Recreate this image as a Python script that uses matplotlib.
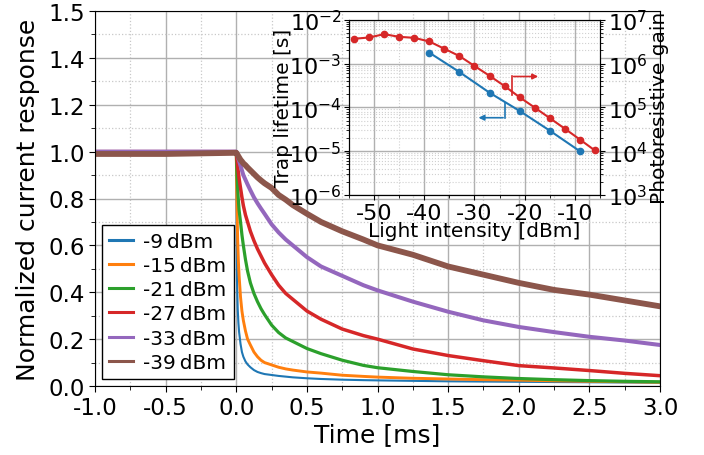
import matplotlib
matplotlib.use('Agg')
import matplotlib.pyplot as plt
from matplotlib.ticker import MultipleLocator, LogLocator, NullFormatter
import numpy as np

plt.rcParams['font.family'] = ['DejaVu Sans']
plt.rcParams['axes.unicode_minus'] = False

# time traces
t = [-1.0, -0.5, 0.0, 0.0025, 0.005, 0.01, 0.015, 0.02, 0.03, 0.04, 0.05, 0.065, 0.08,
     0.1, 0.125, 0.15, 0.175, 0.2, 0.25, 0.3, 0.35, 0.4, 0.5, 0.6, 0.75, 0.9, 1.0,
     1.25, 1.5, 1.75, 2.0, 2.25, 2.5, 2.75, 3.0]

resp_m9 = [1.0, 1.0, 1.0, 0.62, 0.45, 0.33, 0.27, 0.23, 0.18, 0.145, 0.125, 0.105, 0.092,
           0.08, 0.068, 0.06, 0.055, 0.051, 0.047, 0.043, 0.04, 0.037, 0.033, 0.03,
           0.027, 0.025, 0.024, 0.022, 0.02, 0.019, 0.018, 0.017, 0.016, 0.015, 0.014]
resp_m15 = [1.0, 1.0, 1.0, 0.86, 0.76, 0.62, 0.53, 0.47, 0.38, 0.32, 0.28, 0.235, 0.2,
            0.175, 0.145, 0.125, 0.11, 0.1, 0.09, 0.08, 0.073, 0.068, 0.06, 0.055,
            0.046, 0.041, 0.038, 0.033, 0.03, 0.027, 0.025, 0.022, 0.02, 0.018, 0.016]
resp_m21 = [1.0, 1.0, 1.0, 0.95, 0.9, 0.84, 0.79, 0.75, 0.7, 0.645, 0.6, 0.54, 0.49,
            0.44, 0.395, 0.36, 0.33, 0.305, 0.26, 0.228, 0.205, 0.19, 0.16, 0.138,
            0.11, 0.088, 0.078, 0.062, 0.048, 0.039, 0.032, 0.027, 0.023, 0.02, 0.018]
resp_m27 = [1.0, 1.0, 1.0, 0.98, 0.965, 0.935, 0.91, 0.885, 0.845, 0.805, 0.77, 0.73, 0.7,
            0.66, 0.62, 0.585, 0.555, 0.525, 0.475, 0.43, 0.395, 0.37, 0.32, 0.285,
            0.243, 0.215, 0.2, 0.158, 0.13, 0.108, 0.087, 0.077, 0.066, 0.054, 0.044]
resp_m33 = [1.0, 1.0, 1.0, 0.995, 0.99, 0.98, 0.97, 0.96, 0.94, 0.92, 0.9, 0.88, 0.86,
            0.835, 0.805, 0.78, 0.757, 0.735, 0.69, 0.655, 0.625, 0.6, 0.55, 0.51,
            0.47, 0.43, 0.408, 0.36, 0.317, 0.28, 0.252, 0.23, 0.21, 0.194, 0.175]
resp_m39 = [0.99, 0.99, 0.995, 0.993, 0.99, 0.985, 0.98, 0.975, 0.965, 0.958, 0.95, 0.942,
            0.932, 0.92, 0.905, 0.89, 0.877, 0.865, 0.845, 0.815, 0.795, 0.772, 0.735, 0.7,
            0.66, 0.625, 0.6, 0.56, 0.51, 0.475, 0.44, 0.41, 0.39, 0.365, 0.34]

traces = [resp_m9, resp_m15, resp_m21, resp_m27, resp_m33, resp_m39]
trace_labels = ['-9\u2009dBm', '-15\u2009dBm', '-21\u2009dBm',
                '-27\u2009dBm', '-33\u2009dBm', '-39\u2009dBm']
trace_lw = [1.5, 2.1, 2.3, 2.5, 2.9, 4.2]

ytick_pos = [0.0, 0.2, 0.4, 0.6, 0.8, 1.0, 1.2, 1.4, 1.6]
ytick_labels = ['0.0', '0.2', '0.4', '0.6', '0.8', '1.0', '1.2', '1.4', '1.5']

# inset data
power_tau = [-39, -33, -27, -21, -15, -9]
trap_lifetime = [1.77e-3, 6.4e-4, 2.16e-4, 8.3e-5, 2.95e-5, 1.0e-5]
power_gain = [-54, -51, -48, -45, -42, -39, -36, -33, -30, -27, -24, -21, -18, -15, -12, -9, -6]
gain = [3.66e6, 3.92e6, 4.67e6, 4.06e6, 3.85e6, 3.18e6, 2.17e6, 1.48e6, 8.8e5, 5.25e5,
        3.06e5, 1.70e5, 9.9e4, 5.69e4, 3.27e4, 1.85e4, 1.04e4]

fig = plt.figure(figsize=(7.04, 4.56), dpi=100)
ax = fig.add_axes([0.135, 0.1513, 0.8025, 0.8224])

colors = ['C0', 'C1', 'C2', 'C3', 'C4', 'C5']
for y, lab, c, lw in zip(traces, trace_labels, colors, trace_lw):
    ax.plot(t, y, color=c, lw=lw, label=lab)

ax.set_xlim(-1, 3)
ax.set_ylim(0, 1.6)
ax.xaxis.set_major_locator(MultipleLocator(0.5))
ax.xaxis.set_minor_locator(MultipleLocator(0.25))
ax.set_yticks(ytick_pos)
ax.set_yticklabels(ytick_labels)
ax.yaxis.set_minor_locator(MultipleLocator(0.1))
ax.grid(which='major', color='#b0b0b0', lw=1.0)
ax.grid(which='minor', color='#c8c8c8', lw=0.9, ls=':')
ax.tick_params(which='both', direction='out', labelsize=16.5)
ax.tick_params(which='major', length=4)
ax.tick_params(which='minor', length=3)
ax.set_xlabel('Time [ms]', fontsize=18, labelpad=2)
ax.set_ylabel('Normalized current response', fontsize=18, labelpad=6)

leg = ax.legend(loc='lower left', fontsize=14.5, handlelength=1.2, labelspacing=0.26,
                borderaxespad=0.35, fancybox=False, framealpha=1, edgecolor='black',
                handletextpad=0.5, borderpad=0.35)
for h in leg.legend_handles:
    h.set_linewidth(2.2)
leg.get_frame().set_linewidth(1.0)

# inset
axi = fig.add_axes([0.4957, 0.570, 0.3565, 0.3847])
axi.semilogy(power_tau, trap_lifetime, color='C0', marker='o', ms=4.5, lw=1.5)
axi.set_xlim(-55, -5)
axi.set_ylim(1e-6, 1e-2)
axi.xaxis.set_major_locator(MultipleLocator(10))
axi.xaxis.set_minor_locator(MultipleLocator(5))
axi.yaxis.set_major_locator(LogLocator(base=10, numticks=10))
axi.yaxis.set_minor_locator(LogLocator(base=10, subs=np.arange(2, 10), numticks=20))
axi.yaxis.set_minor_formatter(NullFormatter())
axi.grid(which='major', color='#b0b0b0', lw=1.0)
axi.grid(which='minor', color='#d0d0d0', lw=0.8, ls=':')
axi.tick_params(which='both', labelsize=16, pad=2)
axi.tick_params(which='minor', length=2)
axi.set_xlabel('Light intensity [dBm]', fontsize=14.5, labelpad=-1)
axi.set_ylabel('Trap lifetime [s]', fontsize=14.5, labelpad=-3)

axr = axi.twinx()
axr.semilogy(power_gain, gain, color='C3', marker='o', ms=4.5, lw=1.5)
axr.set_ylim(1e3, 1e7)
axr.yaxis.set_major_locator(LogLocator(base=10, numticks=10))
axr.yaxis.set_minor_locator(LogLocator(base=10, subs=np.arange(2, 10), numticks=20))
axr.yaxis.set_minor_formatter(NullFormatter())
axr.tick_params(which='both', labelsize=16, pad=2)
axr.tick_params(which='minor', length=2)
axr.set_ylabel('Photoresistive gain', fontsize=14.5, labelpad=2)

# axis indicator arrows
axi.plot([0.648, 0.648], [0.568, 0.676], color='C3', lw=1.2, transform=axi.transAxes)
axi.annotate('', xy=(0.765, 0.676), xytext=(0.645, 0.676), xycoords='axes fraction',
             arrowprops=dict(arrowstyle='-|>', color='C3', lw=1.2, mutation_scale=8))
axi.plot([0.622, 0.622], [0.441, 0.525], color='C0', lw=1.2, transform=axi.transAxes)
axi.annotate('', xy=(0.505, 0.441), xytext=(0.625, 0.441), xycoords='axes fraction',
             arrowprops=dict(arrowstyle='-|>', color='C0', lw=1.2, mutation_scale=8))

fig.savefig('out.png', dpi=100)
